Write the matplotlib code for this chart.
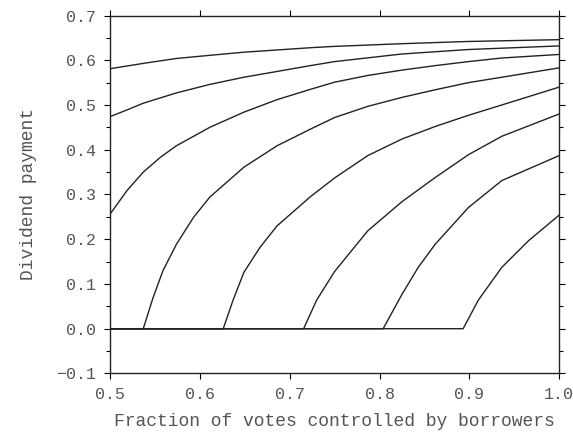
import matplotlib.pyplot as plt
import numpy as np

# curves (x = fraction of votes, y = dividend)
c1_x = [0.5, 0.537, 0.574, 0.611, 0.649, 0.686, 0.723, 0.750, 0.825, 0.899, 1.0]
c1_y = [0.581, 0.593, 0.604, 0.611, 0.618, 0.623, 0.628, 0.631, 0.637, 0.642, 0.646]

c2_x = [0.5, 0.519, 0.537, 0.574, 0.611, 0.649, 0.686, 0.723, 0.750, 0.825, 0.899, 1.0]
c2_y = [0.474, 0.489, 0.504, 0.527, 0.546, 0.562, 0.575, 0.588, 0.597, 0.614, 0.624, 0.632]

c3_x = [0.5, 0.519, 0.537, 0.556, 0.574, 0.611, 0.649, 0.686, 0.723, 0.750,
        0.787, 0.825, 0.862, 0.899, 0.936, 1.0]
c3_y = [0.256, 0.309, 0.350, 0.383, 0.409, 0.450, 0.484, 0.512, 0.535, 0.551,
        0.566, 0.578, 0.588, 0.597, 0.605, 0.613]

c4_x = [0.5, 0.537, 0.548, 0.559, 0.574, 0.593, 0.611, 0.649, 0.686, 0.723,
        0.750, 0.787, 0.825, 0.862, 0.899, 0.936, 1.0]
c4_y = [0.0, 0.0, 0.070, 0.130, 0.189, 0.249, 0.294, 0.361, 0.409, 0.446,
        0.472, 0.497, 0.517, 0.534, 0.550, 0.562, 0.583]

c5_x = [0.5, 0.626, 0.637, 0.649, 0.667, 0.686, 0.723, 0.750, 0.787, 0.825,
        0.862, 0.899, 0.936, 1.0]
c5_y = [0.0, 0.0, 0.064, 0.126, 0.182, 0.230, 0.295, 0.337, 0.387, 0.424,
        0.452, 0.477, 0.500, 0.540]

c6_x = [0.5, 0.7155, 0.730, 0.750, 0.787, 0.825, 0.862, 0.899, 0.936, 1.0]
c6_y = [0.0, 0.0, 0.064, 0.128, 0.219, 0.284, 0.338, 0.389, 0.430, 0.480]

c7_x = [0.5, 0.804, 0.825, 0.843, 0.862, 0.899, 0.936, 1.0]
c7_y = [0.0, 0.0, 0.077, 0.137, 0.189, 0.271, 0.331, 0.387]

c8_x = [0.5, 0.893, 0.910, 0.936, 0.966, 1.0]
c8_y = [0.0, 0.0, 0.064, 0.137, 0.197, 0.254]

curvas = [(c1_x, c1_y), (c2_x, c2_y), (c3_x, c3_y), (c4_x, c4_y),
          (c5_x, c5_y), (c6_x, c6_y), (c7_x, c7_y), (c8_x, c8_y)]

xticks = ['0.5', '0.6', '0.7', '0.8', '0.9', '1.0']
yticks = ['\u22120.1', '0.0', '0.1', '0.2', '0.3', '0.4', '0.5', '0.6', '0.7']

cor_texto = '#555555'
fonte = 'Liberation Mono'

fig = plt.figure(figsize=(5.73, 4.43), dpi=100)
ax = fig.add_axes([0.192, 0.157, 0.784, 0.808])

for x, y in curvas:
    ax.plot(x, y, color='#222222', linewidth=1.0, solid_joinstyle='round')

ax.set_xlim(0.5, 1.0)
ax.set_ylim(-0.1, 0.7)
ax.set_xticks(np.arange(0.5, 1.01, 0.1))
ax.set_yticks(np.arange(-0.1, 0.71, 0.1))
ax.set_yticks(np.arange(-0.05, 0.7, 0.1), minor=True)
ax.set_xticklabels(xticks)
ax.set_yticklabels(yticks)

ax.tick_params(which='major', direction='out', length=4, width=0.8,
               top=True, right=True, labelsize=12, labelcolor=cor_texto, pad=6)
ax.tick_params(which='minor', direction='out', length=3, width=0.8, right=True)
for lbl in ax.get_xticklabels() + ax.get_yticklabels():
    lbl.set_family(fonte)

for s in ax.spines.values():
    s.set_linewidth(1.0)
    s.set_color('#222222')

ax.set_xlabel('Fraction of votes controlled by borrowers', family=fonte,
              fontsize=13, color=cor_texto, labelpad=8)
ax.set_ylabel('Dividend payment', family=fonte, fontsize=13,
              color=cor_texto, labelpad=14)

plt.savefig('out.png', dpi=100)
